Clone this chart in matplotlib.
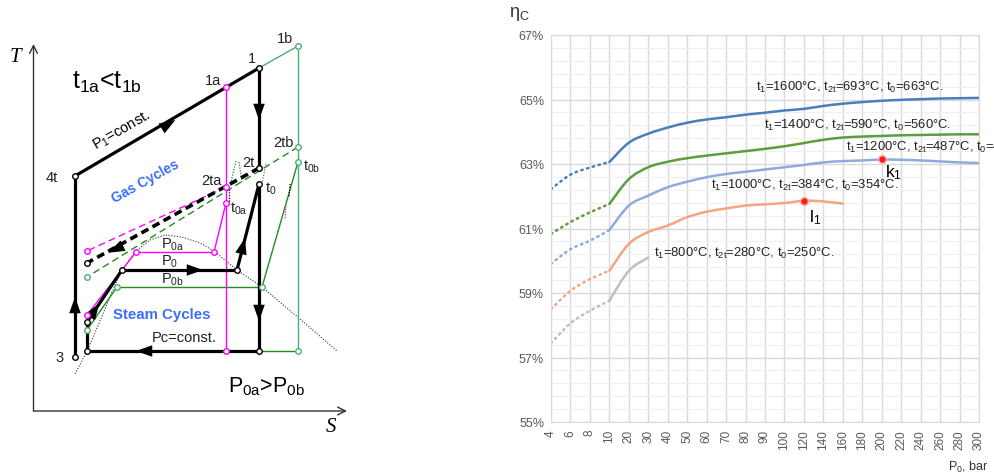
import numpy as np
import matplotlib
matplotlib.use('Agg')
import matplotlib.pyplot as plt
from matplotlib.path import Path
from matplotlib.patches import PathPatch

plt.rcParams['font.family'] = ['Liberation Sans', 'DejaVu Sans']
plt.rcParams['mathtext.fontset'] = 'custom'
plt.rcParams['mathtext.rm'] = 'Liberation Sans'
plt.rcParams['mathtext.it'] = 'Liberation Sans:italic'
plt.rcParams['mathtext.default'] = 'regular'

# ---------------- right chart data: efficiency vs P0 ----------------
P0 = [4, 6, 8, 10, 20, 30, 40, 50, 60, 70, 80, 90, 100,
      120, 140, 160, 180, 200, 220, 240, 260, 280, 300]
eta_1600 = [62.22, 62.67, 62.89, 63.06, 63.66, 63.94, 64.13, 64.28, 64.38, 64.45, 64.53, 64.59,
            64.66, 64.71, 64.80, 64.87, 64.92, 64.96, 64.99, 65.01, 65.03, 65.04, 65.05]
eta_1400 = [60.83, 61.20, 61.50, 61.76, 62.53, 62.90, 63.07, 63.18, 63.26, 63.33, 63.40, 63.47,
            63.55, 63.65, 63.75, 63.82, 63.85, 63.87, 63.89, 63.90, 63.91, 63.92, 63.92]
eta_1200 = [59.90, 60.36, 60.62, 60.95, 61.71, 62.02, 62.28, 62.45, 62.59, 62.69, 62.76, 62.83,
            62.90, 62.97, 63.05, 63.09, 63.11, 63.14, 63.13, 63.11, 63.08, 63.05, 63.03]
eta_1000 = [58.50, 59.07, 59.43, 59.69, 60.52, 60.89, 61.09, 61.35, 61.52, 61.62, 61.71, 61.75,
            61.79, 61.86, 61.84, 61.77]
eta_800 = [57.44, 58.06, 58.45, 58.76, 59.69, 60.10]

series = [eta_1600, eta_1400, eta_1200, eta_1000, eta_800]
colors = ['#4a7ebb', '#5e9c40', '#8faadc', '#f4a582', '#bfbfbf']
labels = [r't$_1$=1600°C, t$_{2t}$=693°C, t$_0$=663°C.',
          r't$_1$=1400°C, t$_{2t}$=590°C, t$_0$=560°C.',
          r't$_1$=1200°C, t$_{2t}$=487°C, t$_0$=457°C.',
          r't$_1$=1000°C, t$_{2t}$=384°C, t$_0$=354°C.',
          r't$_1$=800°C, t$_{2t}$=280°C, t$_0$=250°C.']
label_pos = [(10.54, 65.42), (10.95, 64.24), (15.17, 63.53), (8.23, 62.38), (5.30, 60.27)]
k1_P0, l1_P0 = 200, 120

# ---------------- left schematic: T-s state points ----------------
p1, p1a, p1b = (259, 69), (226, 88), (298, 47)
p4t, p3 = (75, 177), (75, 358)
p2t, p2ta, p2tb = (259, 169), (226, 188), (298, 148)
t0, t0a, t0b = (259, 185), (226, 204), (298, 163)
vap0, vap0a, vap0b = (237, 271), (214, 253), (262, 288)
liq0, liq0a, liq0b = (122, 271), (136, 253), (117, 288)
pump0, pump0a, pump0b = (87, 323), (87, 316), (87, 331)
cond_l, cond_m, cond_a, cond_b = (87, 352), (259, 352), (226, 352), (298, 352)
gas_end, gas_end_a, gas_end_b = (87, 264), (87, 252), (87, 278)
dome_x = [75, 87, 100, 112, 122, 136, 150, 165, 182, 200, 214, 237, 262, 300, 337]
dome_y = [375, 352, 322, 293, 271, 252, 241, 236, 238, 244, 252, 271, 288, 320, 352]

fig = plt.figure(figsize=(9.95, 4.77), dpi=100)

# ======== left panel ========
axl = fig.add_axes([0, 0, 360 / 995, 1])
axl.set_xlim(0, 360)
axl.set_ylim(477, 0)
axl.axis('off')

K, M, G, GL = 'black', '#ff00ff', '#228b22', '#4caf73'


def seg(a, b, color, lw=1.0, ls='-'):
    axl.plot([a[0], b[0]], [a[1], b[1]], color=color, lw=lw, ls=ls, solid_capstyle='butt')


def head(at, toward, color='k', size=13):
    d = np.array(toward, float) - np.array(at, float)
    d /= np.hypot(*d)
    x, y = at
    axl.annotate('', xy=(x + d[0] * 4, y + d[1] * 4), xytext=(x - d[0] * 4, y - d[1] * 4),
                 arrowprops=dict(arrowstyle='-|>,head_length=0.9,head_width=0.32',
                                 color=color, lw=0, shrinkA=0, shrinkB=0, mutation_scale=size))


# axes
axl.annotate('', xy=(33.5, 45), xytext=(33.5, 412),
             arrowprops=dict(arrowstyle='->', color='#333333', lw=1, shrinkA=0, shrinkB=0,
                             mutation_scale=14))
axl.annotate('', xy=(347, 412), xytext=(33.5, 412),
             arrowprops=dict(arrowstyle='->', color='#333333', lw=1, shrinkA=0, shrinkB=0,
                             mutation_scale=14))

# saturation dome
axl.plot(dome_x, dome_y, color='#333333', lw=0.8, ls=(0, (1, 1.5)))

# green (b) cycle
seg(p1, p1b, GL)
seg(p1b, cond_b, GL)
seg(cond_m, cond_b, G)
seg(t0b, vap0b, G)
seg(liq0b, vap0b, G)
seg(pump0b, liq0b, G)
seg(p2tb, gas_end_b, G, ls=(0, (5, 3)))

# magenta (a) cycle
seg(p1a, cond_a, M)
seg(vap0a, t0a, M)
seg(liq0a, vap0a, M)
seg(pump0a, liq0a, M)
seg(p2ta, gas_end_a, M, ls=(0, (5, 3)))

# small dotted details near the turbine exits
for a, b, c in [((236, 162), (231, 183), G), ((239, 163), (242, 183), G),
                ((266, 165), (262, 184), '#777777'), ((229, 190), (229, 206), K),
                ((253, 207), (252, 219), M), ((290, 185), (289, 198), K),
                ((286, 207), (285, 220), M)]:
    seg(a, b, c, lw=0.9, ls=(0, (1, 1.2)))

# main black cycle
lwk = 2.3
seg(p4t, p1, K, lwk)
seg(p1, p2t, K, lwk)
seg(t0, cond_m, K, lwk)
seg(cond_m, cond_l, K, lwk)
seg(cond_l, pump0, K, lwk)
seg(pump0, liq0, K, lwk)
seg(liq0, vap0, K, lwk)
seg(vap0, t0, K, lwk)
seg(p4t, p3, K, lwk)
seg(p2t, gas_end, K, 2.6, ls=(0, (2.2, 1.3)))

head((172, 123), p1)
head((259, 117), cond_m)
head((259, 318), (259, 400))
head((140, 352), cond_l)
head((75, 302), p4t)
head((97, 308), liq0)
head((199, 271), vap0)
head((244, 243), t0)
head((112, 252), gas_end)

# state point circles
circ = [(K, [p1, p4t, p3, p2t, t0, cond_l, cond_m, liq0, vap0, pump0, gas_end]),
        (M, [p1a, p2ta, t0a, cond_a, vap0a, liq0a, pump0a, gas_end_a]),
        (G, [p1b, p2tb, t0b, cond_b, vap0b, liq0b, pump0b, gas_end_b])]
for c, pts in circ:
    xs, ys = zip(*pts)
    axl.plot(xs, ys, 'o', ms=4, mfc='white', mec=c if c != G else GL, mew=1, zorder=5)

tk = dict(ha='center', va='center', fontsize=10.5, color='#222222')
axl.text(15, 57, 'T', family='Liberation Serif', style='italic', fontsize=15, ha='center', va='center')
axl.text(331, 428, 'S', family='Liberation Serif', style='italic', fontsize=15, ha='center', va='center')
axl.text(107, 82, r't$_{1a}$<t$_{1b}$', ha='center', va='center', fontsize=18)
for s, xy in [('1', (252, 59)), ('1a', (213, 81)), ('1b', (285, 39)), ('4t', (52, 178)),
              ('2tb', (283, 143)), ('2t', (248, 163)), (r't$_0$', (271, 189)),
              (r't$_{0b}$', (312, 167)), ('2ta', (211, 181)), (r't$_{0a}$', (239, 209)),
              ('3', (60, 358))]:
    axl.text(xy[0], xy[1], s, **tk)
axl.text(122, 131, r'P$_1$=const.', rotation=30, ha='center', va='center', fontsize=10.5)
axl.text(145, 182, 'Gas Cycles', rotation=29, ha='center', va='center', fontsize=10,
         fontweight='bold', color='#3d6ef5')
axl.text(162, 315, 'Steam Cycles', ha='center', va='center', fontsize=10.8,
         fontweight='bold', color='#3d6ef5')
axl.text(173, 245, r'P$_{0a}$', **tk)
axl.text(170, 262, r'P$_0$', **tk)
axl.text(172, 280, r'P$_{0b}$', **tk)
axl.text(184, 338, 'Pc=const.', **tk)
axl.text(267, 387, r'P$_{0a}$>P$_{0b}$', ha='center', va='center', fontsize=15.5)

# ======== right panel ========
ax = fig.add_axes([551 / 995, 54 / 477, 428 / 995, 387 / 477])


def smooth(xs, ys, color, ls):
    # Excel-style smoothed line: cubic Bezier segments through the data points
    P = np.column_stack([xs, ys]).astype(float)
    n = len(P)
    verts, codes = [P[0]], [Path.MOVETO]
    for i in range(n - 1):
        a = P[i - 1] if i > 0 else P[i]
        d = P[i + 2] if i + 2 < n else P[i + 1]
        verts += [P[i] + (P[i + 1] - a) / 6, P[i + 1] - (d - P[i]) / 6, P[i + 1]]
        codes += [Path.CURVE4] * 3
    patch = PathPatch(Path(verts, codes), fill=False, edgecolor=color, lw=1.8, ls=ls)
    patch.set_capstyle('round')
    ax.add_patch(patch)


for vals, c in zip(series, colors):
    xi = np.arange(len(vals))
    smooth(xi[:4], vals[:4], c, (0, (0.6, 1.8)))
    smooth(xi[3:], vals[3:], c, '-')
for s, (lx, ly) in zip(labels, label_pos):
    ax.text(lx, ly, s, ha='left', va='center', fontsize=9.4, color='#222222')

for p, vals, name, off in [(k1_P0, eta_1200, 'k', (0.6, -0.38)), (l1_P0, eta_1000, 'l', (0.55, -0.49))]:
    i = P0.index(p)
    ax.plot(i, vals[i], 'o', ms=5.5, mfc='#ff1a1a', mec='#f8b0a0', mew=1, zorder=5)
    ax.text(i + off[0], vals[i] + off[1], name + r'$_1$', ha='center', va='center', fontsize=12.5)

ax.set_xlim(0, len(P0) - 1)
ax.set_ylim(55, 67)
ax.set_xticks(np.arange(len(P0)))
ax.set_xticklabels([str(p) for p in P0], rotation=90)
ax.set_yticks(range(55, 68, 2))
ax.set_yticklabels([f'{v}%' for v in range(55, 68, 2)])
ax.set_yticks(np.arange(55, 67.01, 0.4), minor=True)
ax.grid(True, which='major', color='#d9d9d9', lw=1)
ax.grid(True, which='minor', axis='y', color='#efefef', lw=0.8)
ax.set_axisbelow(True)
ax.tick_params(which='both', length=0, labelcolor='#595959', pad=5)
ax.tick_params(axis='y', labelsize=9)
ax.tick_params(axis='x', labelsize=8.5)
for sp in ax.spines.values():
    sp.set_color('#d9d9d9')

fig.text(509 / 995, 1 - 14 / 477, r'η$_C$', fontsize=13, color='#333333', ha='left', va='center')
fig.text(968 / 995, 1 - 467 / 477, r'P$_0$, bar', fontsize=9, color='#333333', ha='center', va='center')

fig.savefig('out.png', dpi=100)
